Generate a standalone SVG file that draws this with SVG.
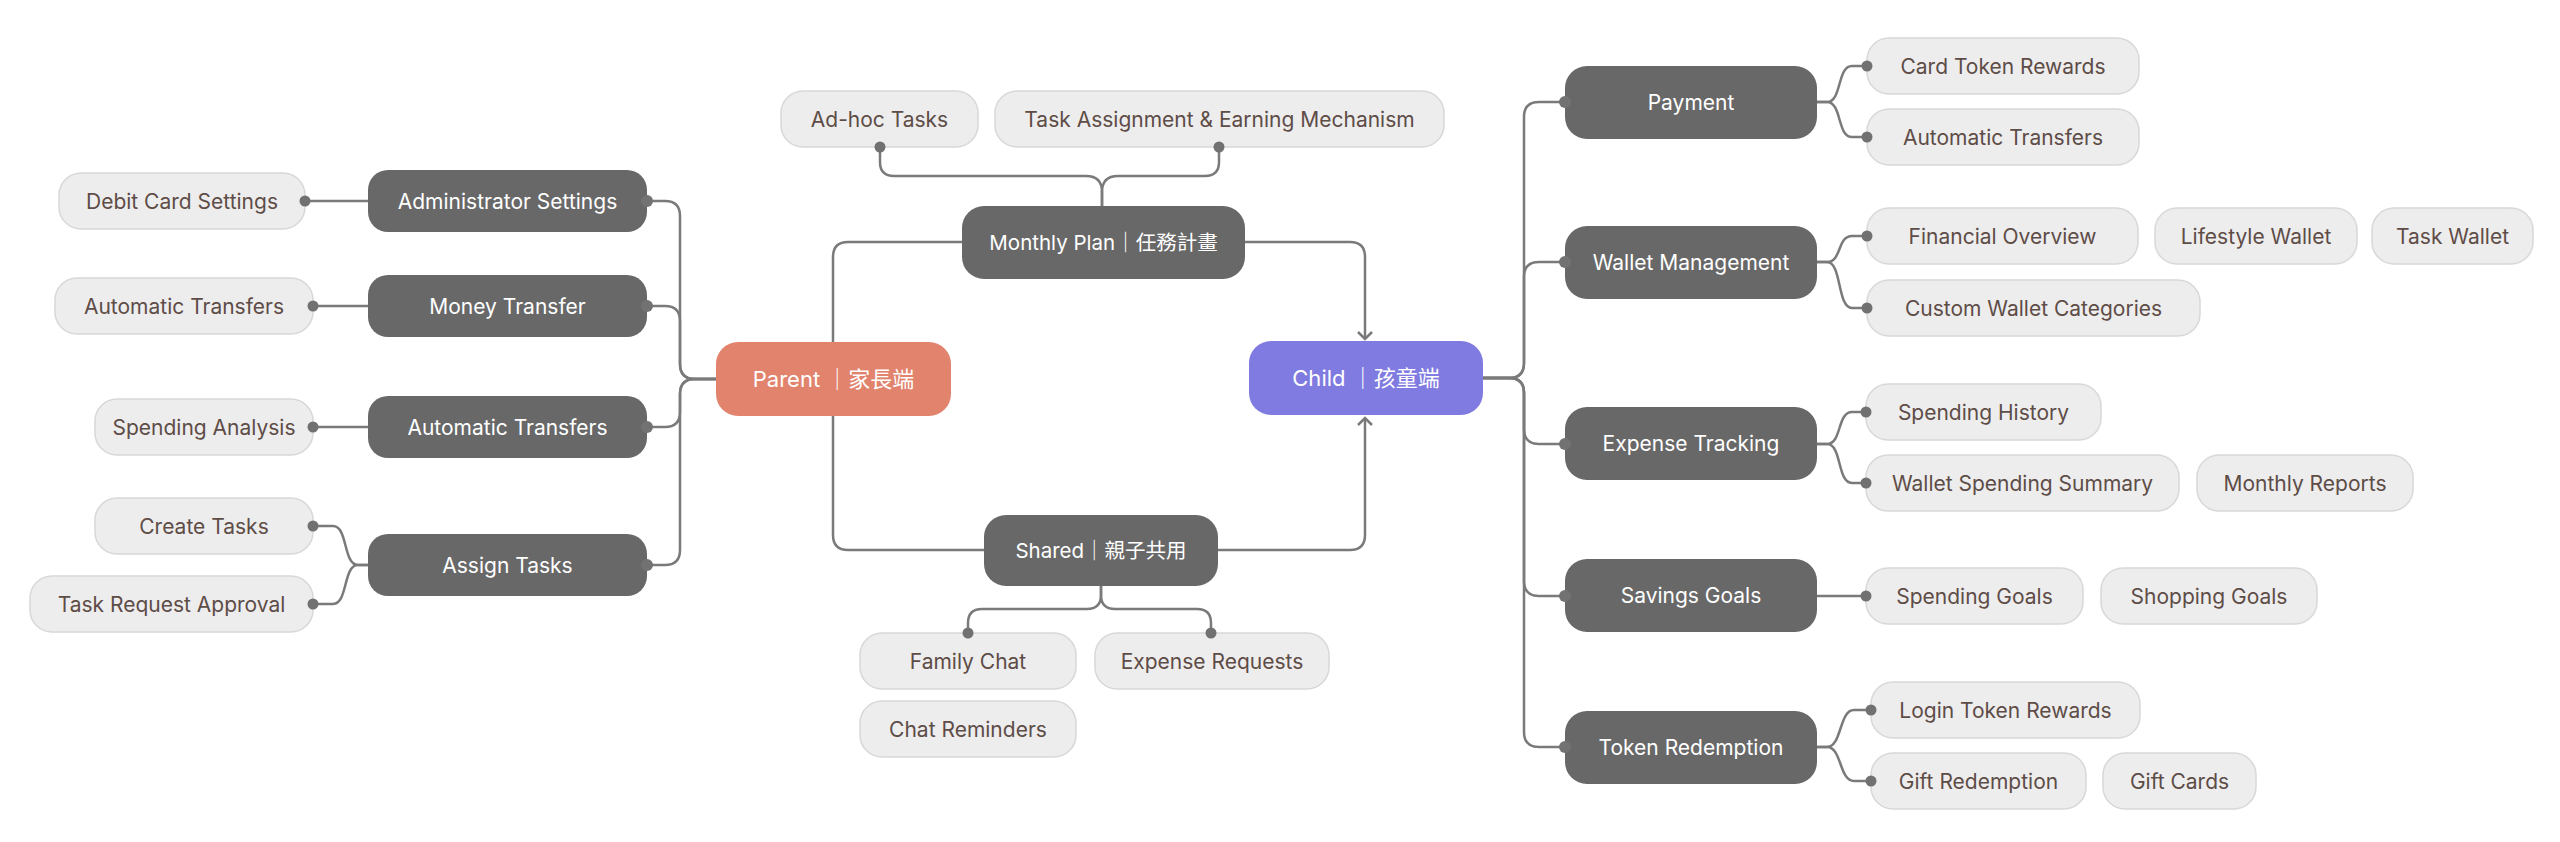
<svg xmlns="http://www.w3.org/2000/svg" width="2560" height="842" viewBox="0 0 2560 842">
<defs>
<style>
.bg{fill:#ffffff}
.lt rect{fill:#ededed;stroke:#d8d8d8;stroke-width:1.5}
.lt text{fill:#5e4c47;font-family:Inter,"Noto Sans","Noto Sans CJK TC",sans-serif;font-size:21px;text-anchor:middle;dominant-baseline:central}
.dk rect{fill:#686868}
.dk text{fill:#ffffff;font-family:Inter,"Noto Sans","Noto Sans CJK TC",sans-serif;font-size:21px;text-anchor:middle;dominant-baseline:central}
.dk text.mix{font-size:20.5px}
.root text{fill:#ffffff;font-family:Inter,"Noto Sans","Noto Sans CJK TC",sans-serif;font-size:22px;text-anchor:middle;dominant-baseline:central}
.edge{fill:none;stroke:#7a7a7a;stroke-width:2.5}
.dot{fill:#717171}
.hdot{fill:#727272}
</style>
<marker id="arr" viewBox="-8 -8 16 16" markerWidth="16" markerHeight="16" refX="0" refY="0" orient="auto" markerUnits="userSpaceOnUse">
<path d="M-7,-7 L0,0 L-7,7" fill="none" stroke="#7a7a7a" stroke-width="2.5"/>
</marker>
</defs>
<rect class="bg" x="0" y="0" width="2560" height="842"/>

<g id="connectors">
<path class="edge" d="M716,379 H695 Q680,379 680,364 V216 Q680,201 665,201 H647"/>
<path class="edge" d="M716,379 H695 Q680,379 680,364 V321 Q680,306 665,306 H647"/>
<path class="edge" d="M716,379 H695 Q680,379 680,394 V412 Q680,427 665,427 H647"/>
<path class="edge" d="M716,379 H695 Q680,379 680,394 V550 Q680,565 665,565 H647"/>
<path class="edge" d="M368,201 H305"/>
<path class="edge" d="M368,306 H313"/>
<path class="edge" d="M368,427 H313"/>
<path class="edge" d="M368,565 H358 C343,565 348,526 333,526 H313"/>
<path class="edge" d="M368,565 H358 C343,565 348,604 333,604 H313"/>
<path class="edge" d="M962,242 H848 Q833,242 833,257 V342"/>
<path class="edge" d="M1245,242 H1350 Q1365,242 1365,257 V339" marker-end="url(#arr)"/>
<path class="edge" d="M833,416 V535 Q833,550 848,550 H984"/>
<path class="edge" d="M1218,550 H1350 Q1365,550 1365,535 V418" marker-end="url(#arr)"/>
<path class="edge" d="M1102,206 V192 Q1102,176 1086,176 H894 Q880,176 880,162 V147"/>
<path class="edge" d="M1102,206 V192 Q1102,176 1118,176 H1205 Q1219,176 1219,162 V147"/>
<path class="edge" d="M1101,586 V595 Q1101,609 1087,609 H982 Q968,609 968,623 V633"/>
<path class="edge" d="M1101,586 V595 Q1101,609 1115,609 H1197 Q1211,609 1211,623 V633"/>
<path class="edge" d="M1483,378 H1509 Q1524,378 1524,363 V117 Q1524,102 1539,102 H1565"/>
<path class="edge" d="M1483,378 H1509 Q1524,378 1524,363 V277 Q1524,262 1539,262 H1565"/>
<path class="edge" d="M1483,378 H1509 Q1524,378 1524,393 V429 Q1524,444 1539,444 H1565"/>
<path class="edge" d="M1483,378 H1509 Q1524,378 1524,393 V581 Q1524,596 1539,596 H1565"/>
<path class="edge" d="M1483,378 H1509 Q1524,378 1524,393 V732 Q1524,747 1539,747 H1565"/>
<path class="edge" d="M1817,102 H1827 C1842,102 1837,66 1852,66 H1867"/>
<path class="edge" d="M1817,102 H1827 C1842,102 1837,137 1852,137 H1867"/>
<path class="edge" d="M1817,262 H1827 C1842,262 1837,236 1852,236 H1867"/>
<path class="edge" d="M1817,262 H1827 C1842,262 1837,308 1852,308 H1867"/>
<path class="edge" d="M1817,444 H1827 C1842,444 1837,412 1852,412 H1866"/>
<path class="edge" d="M1817,444 H1827 C1842,444 1837,483 1852,483 H1866"/>
<path class="edge" d="M1817,596 H1866"/>
<path class="edge" d="M1817,747 H1827 C1842,747 1839,710 1854,710 H1871"/>
<path class="edge" d="M1817,747 H1827 C1842,747 1839,781 1854,781 H1871"/>
</g>

<g id="parent" class="root"><rect x="716" y="342" width="235" height="74" rx="22" fill="#e2836d"/><text x="833.5" y="379">Parent ｜家長端</text></g>
<g id="child" class="root"><rect x="1249" y="341" width="234" height="74" rx="22" fill="#7f7be0"/><text x="1366" y="378">Child ｜孩童端</text></g>

<g id="admin-settings" class="dk"><rect x="368" y="170" width="279" height="62" rx="20"/><text x="507.5" y="201">Administrator Settings</text><circle class="hdot" cx="647" cy="201" r="6"/></g>
<g id="money-transfer" class="dk"><rect x="368" y="275" width="279" height="62" rx="20"/><text x="507.5" y="306">Money Transfer</text><circle class="hdot" cx="647" cy="306" r="6"/></g>
<g id="auto-transfers-parent" class="dk"><rect x="368" y="396" width="279" height="62" rx="20"/><text x="507.5" y="427">Automatic Transfers</text><circle class="hdot" cx="647" cy="427" r="6"/></g>
<g id="assign-tasks" class="dk"><rect x="368" y="534" width="279" height="62" rx="20"/><text x="507.5" y="565">Assign Tasks</text><circle class="hdot" cx="647" cy="565" r="6"/></g>

<g id="debit-card-settings" class="lt"><rect x="59" y="173" width="246" height="56" rx="22"/><text x="182" y="201">Debit Card Settings</text><circle class="dot" cx="305" cy="201" r="5.5"/></g>
<g id="auto-transfers-l" class="lt"><rect x="55" y="278" width="258" height="56" rx="22"/><text x="184" y="306">Automatic Transfers</text><circle class="dot" cx="313" cy="306" r="5.5"/></g>
<g id="spending-analysis" class="lt"><rect x="95" y="399" width="218" height="56" rx="22"/><text x="204" y="427">Spending Analysis</text><circle class="dot" cx="313" cy="427" r="5.5"/></g>
<g id="create-tasks" class="lt"><rect x="95" y="498" width="218" height="56" rx="22"/><text x="204" y="526">Create Tasks</text><circle class="dot" cx="313" cy="526" r="5.5"/></g>
<g id="task-request-approval" class="lt"><rect x="30" y="576" width="283" height="56" rx="22"/><text x="171.5" y="604">Task Request Approval</text><circle class="dot" cx="313" cy="604" r="5.5"/></g>

<g id="monthly-plan" class="dk"><rect x="962" y="206" width="283" height="73" rx="22"/><text class="mix" x="1103.5" y="242.5">Monthly Plan｜任務計畫</text></g>
<g id="shared" class="dk"><rect x="984" y="515" width="234" height="71" rx="22"/><text class="mix" x="1101" y="550.5">Shared｜親子共用</text></g>
<g id="adhoc-tasks" class="lt"><rect x="781" y="91" width="197" height="56" rx="22"/><text x="879.5" y="119">Ad-hoc Tasks</text><circle class="dot" cx="880" cy="147" r="5.5"/></g>
<g id="task-assignment" class="lt"><rect x="995" y="91" width="449" height="56" rx="22"/><text x="1219.5" y="119">Task Assignment &amp; Earning Mechanism</text><circle class="dot" cx="1219" cy="147" r="5.5"/></g>
<g id="family-chat" class="lt"><rect x="860" y="633" width="216" height="56" rx="22"/><text x="968" y="661">Family Chat</text><circle class="dot" cx="968" cy="633" r="5.5"/></g>
<g id="expense-requests" class="lt"><rect x="1095" y="633" width="234" height="56" rx="22"/><text x="1212" y="661">Expense Requests</text><circle class="dot" cx="1211" cy="633" r="5.5"/></g>
<g id="chat-reminders" class="lt"><rect x="860" y="701" width="216" height="56" rx="22"/><text x="968" y="729">Chat Reminders</text></g>

<g id="payment" class="dk"><rect x="1565" y="66" width="252" height="73" rx="22"/><text x="1691" y="102.5">Payment</text><circle class="hdot" cx="1565" cy="102" r="6"/></g>
<g id="wallet-management" class="dk"><rect x="1565" y="226" width="252" height="73" rx="22"/><text x="1691" y="262.5">Wallet Management</text><circle class="hdot" cx="1565" cy="262" r="6"/></g>
<g id="expense-tracking" class="dk"><rect x="1565" y="407" width="252" height="73" rx="22"/><text x="1691" y="443.5">Expense Tracking</text><circle class="hdot" cx="1565" cy="444" r="6"/></g>
<g id="savings-goals" class="dk"><rect x="1565" y="559" width="252" height="73" rx="22"/><text x="1691" y="595.5">Savings Goals</text><circle class="hdot" cx="1565" cy="596" r="6"/></g>
<g id="token-redemption" class="dk"><rect x="1565" y="711" width="252" height="73" rx="22"/><text x="1691" y="747.5">Token Redemption</text><circle class="hdot" cx="1565" cy="747" r="6"/></g>

<g id="card-token-rewards" class="lt"><rect x="1867" y="38" width="272" height="56" rx="22"/><text x="2003" y="66">Card Token Rewards</text><circle class="dot" cx="1867" cy="66" r="5.5"/></g>
<g id="auto-transfers-r" class="lt"><rect x="1867" y="109" width="272" height="56" rx="22"/><text x="2003" y="137">Automatic Transfers</text><circle class="dot" cx="1867" cy="137" r="5.5"/></g>
<g id="financial-overview" class="lt"><rect x="1867" y="208" width="271" height="56" rx="22"/><text x="2002.5" y="236">Financial Overview</text><circle class="dot" cx="1867" cy="236" r="5.5"/></g>
<g id="lifestyle-wallet" class="lt"><rect x="2155" y="208" width="202" height="56" rx="22"/><text x="2256" y="236">Lifestyle Wallet</text></g>
<g id="task-wallet" class="lt"><rect x="2372" y="208" width="161" height="56" rx="22"/><text x="2452.5" y="236">Task Wallet</text></g>
<g id="custom-wallet-categories" class="lt"><rect x="1867" y="280" width="333" height="56" rx="22"/><text x="2033.5" y="308">Custom Wallet Categories</text><circle class="dot" cx="1867" cy="308" r="5.5"/></g>
<g id="spending-history" class="lt"><rect x="1866" y="384" width="235" height="56" rx="22"/><text x="1983.5" y="412">Spending History</text><circle class="dot" cx="1866" cy="412" r="5.5"/></g>
<g id="wallet-spending-summary" class="lt"><rect x="1866" y="455" width="313" height="56" rx="22"/><text x="2022.5" y="483">Wallet Spending Summary</text><circle class="dot" cx="1866" cy="483" r="5.5"/></g>
<g id="monthly-reports" class="lt"><rect x="2197" y="455" width="216" height="56" rx="22"/><text x="2305" y="483">Monthly Reports</text></g>
<g id="spending-goals" class="lt"><rect x="1866" y="568" width="217" height="56" rx="22"/><text x="1974.5" y="596">Spending Goals</text><circle class="dot" cx="1866" cy="596" r="5.5"/></g>
<g id="shopping-goals" class="lt"><rect x="2101" y="568" width="216" height="56" rx="22"/><text x="2209" y="596">Shopping Goals</text></g>
<g id="login-token-rewards" class="lt"><rect x="1871" y="682" width="269" height="56" rx="22"/><text x="2005.5" y="710">Login Token Rewards</text><circle class="dot" cx="1871" cy="710" r="5.5"/></g>
<g id="gift-redemption" class="lt"><rect x="1871" y="753" width="215" height="56" rx="22"/><text x="1978.5" y="781">Gift Redemption</text><circle class="dot" cx="1871" cy="781" r="5.5"/></g>
<g id="gift-cards" class="lt"><rect x="2103" y="753" width="153" height="56" rx="22"/><text x="2179.5" y="781">Gift Cards</text></g>
</svg>
